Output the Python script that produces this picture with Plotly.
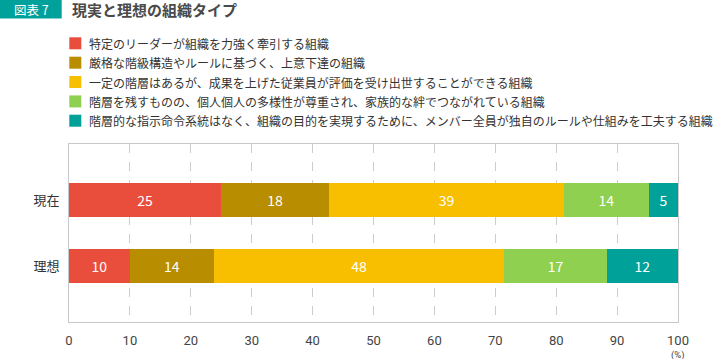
import plotly.graph_objects as go

categories = ["現在", "理想"]
series_names = [
    "特定のリーダーが組織を力強く牽引する組織",
    "厳格な階級構造やルールに基づく、上意下達の組織",
    "一定の階層はあるが、成果を上げた従業員が評価を受け出世することができる組織",
    "階層を残すものの、個人個人の多様性が尊重され、家族的な絆でつながれている組織",
    "階層的な指示命令系統はなく、組織の目的を実現するために、メンバー全員が独自のルールや仕組みを工夫する組織",
]
values_now = [25.0, 17.7, 38.6, 13.9, 4.8]
values_ideal = [10.0, 13.8, 47.7, 16.8, 11.7]
colors = ["#E94E3D", "#B98D00", "#F8BF00", "#90D050", "#00A198"]
x_ticks = [0, 10, 20, 30, 40, 50, 60, 70, 80, 90, 100]

FONT = "Noto Sans CJK JP, Noto Sans, sans-serif"
NUMFONT = "Roboto, Noto Sans CJK JP, sans-serif"
W, H = 728, 359
L, R, T, B = 69, 678, 144, 322

fig = go.Figure()
for i, name in enumerate(series_names):
    fig.add_trace(go.Bar(
        y=categories,
        x=[values_now[i], values_ideal[i]],
        name=name,
        orientation="h",
        marker=dict(color=colors[i], line=dict(width=0)),
        width=0.515,
        texttemplate="%{x:.0f}",
        textposition="inside",
        insidetextanchor="middle",
        textfont=dict(color="white", size=14, family=FONT),
        showlegend=False,
    ))

def px_x(px):
    return (px - L) / (R - L)

def px_y(py):
    return (B - py) / (B - T)

shapes = []
annotations = []
# manual legend
legend_centers = [43.3, 62.7, 82.0, 101.4, 120.7]
for i, name in enumerate(series_names):
    cy = legend_centers[i]
    shapes.append(dict(type="rect", xref="paper", yref="paper",
                       x0=px_x(69.3), x1=px_x(81.3), y0=px_y(cy + 6), y1=px_y(cy - 6),
                       fillcolor=colors[i], line=dict(width=0)))
    annotations.append(dict(xref="paper", yref="paper", x=px_x(86.5), y=px_y(cy),
                            xanchor="left", yanchor="middle", text=name, showarrow=False,
                            font=dict(size=12, color="#333333", family=FONT)))

# title box
shapes.append(dict(type="rect", xref="paper", yref="paper",
                   x0=px_x(0), x1=px_x(61.7), y0=px_y(18.5), y1=px_y(0),
                   fillcolor="#00A19A", line=dict(width=0)))
annotations.append(dict(xref="paper", yref="paper", x=px_x(31), y=px_y(9.5),
                        xanchor="center", yanchor="middle", text="図表 7", showarrow=False,
                        font=dict(size=12.5, color="white", family=FONT)))
annotations.append(dict(xref="paper", yref="paper", x=px_x(70), y=px_y(9.5),
                        xanchor="left", yanchor="middle", text="<b>現実と理想の組織タイプ</b>",
                        showarrow=False, font=dict(size=15, color="#4a4a4a", family=FONT)))
annotations.append(dict(xref="paper", yref="paper", x=1.0, y=px_y(348),
                        xanchor="center", yanchor="top", text="(%)", showarrow=False,
                        font=dict(size=9.5, color="#444444", family=NUMFONT),
                        borderpad=0))

fig.update_layout(
    width=W, height=H,
    margin=dict(l=L, r=W - R, t=T, b=H - B, pad=0),
    barmode="stack",
    plot_bgcolor="white", paper_bgcolor="white",
    font=dict(family=FONT, color="#333333"),
    shapes=shapes,
    annotations=annotations,
    showlegend=False,
    xaxis=dict(range=[0, 100], tickvals=x_ticks, showgrid=True,
               gridcolor="#cccccc", griddash="dash", gridwidth=1,
               showline=True, linecolor="#c8c8c8", linewidth=1, mirror=True,
               ticks="outside", ticklen=6, tickcolor="rgba(0,0,0,0)",
               tickfont=dict(size=13, color="#444444", family=NUMFONT), zeroline=False,
               fixedrange=True),
    yaxis=dict(categoryorder="array", categoryarray=categories,
               range=[1.85, -0.85], showgrid=False,
               showline=True, linecolor="#c8c8c8", linewidth=1, mirror=True,
               ticks="outside", ticklen=6, tickcolor="rgba(0,0,0,0)",
               tickfont=dict(size=13, color="#333333", family=FONT), zeroline=False,
               fixedrange=True),
)

fig.write_html("out.html", config={"displayModeBar": False},
               post_script="document.body.style.margin='0';document.body.style.overflow='hidden';")
